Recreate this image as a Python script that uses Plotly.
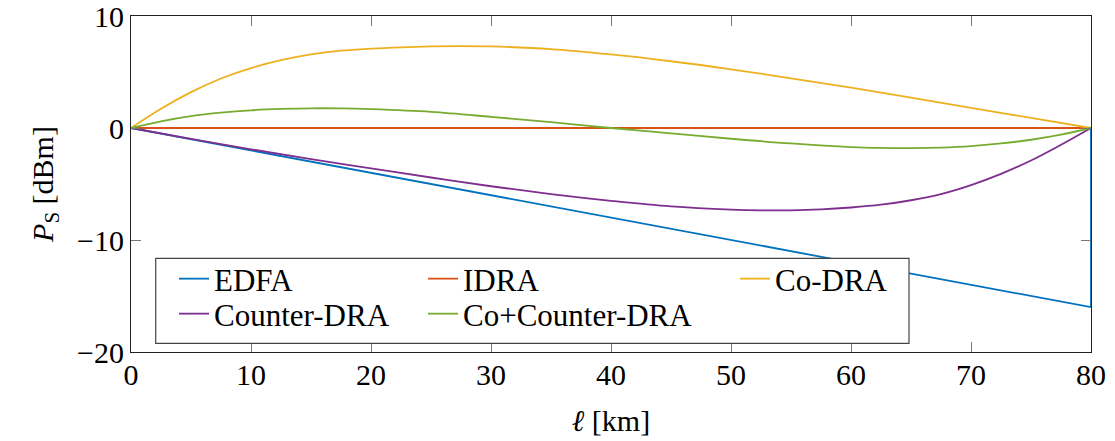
import plotly.graph_objects as go

# ---------------- data ----------------
EDFA_X = [0, 80, 80]
EDFA_Y = [0, -16.0, 0]

IDRA_X = [0, 80]
IDRA_Y = [0, 0]

CO_X = [0, 2.5, 5, 7.5, 10, 12.5, 15, 17.5, 20, 22.5, 25, 27.5, 30, 35, 40, 45, 50, 55, 60, 65, 70, 75, 80]
CO_Y = [0, 1.72, 3.2, 4.42, 5.35, 6.05, 6.57, 6.9, 7.08, 7.2, 7.28, 7.31, 7.28, 7.05, 6.57, 5.96, 5.24, 4.44, 3.6, 2.72, 1.8, 0.9, 0]

COUNTER_X = [0, 5, 10, 15, 20, 25, 30, 35, 40, 45, 50, 52.5, 55, 57.5, 60, 62.5, 65, 67.5, 70, 72.5, 75, 77.5, 80]
COUNTER_Y = [0, -0.97, -1.9, -2.78, -3.6, -4.42, -5.2, -5.9, -6.5, -7.0, -7.28, -7.35, -7.35, -7.27, -7.1, -6.85, -6.45, -5.9, -5.1, -4.1, -2.9, -1.5, 0]

COCTR_X = [0, 2.5, 5, 7.5, 10, 12.5, 15, 17.5, 20, 25, 30, 35, 40, 45, 50, 55, 60, 62.5, 65, 67.5, 70, 72.5, 75, 77.5, 80]
COCTR_Y = [0, 0.6, 1.06, 1.37, 1.58, 1.70, 1.76, 1.75, 1.68, 1.44, 1.0, 0.52, 0, -0.48, -0.96, -1.38, -1.7, -1.78, -1.8, -1.75, -1.62, -1.38, -1.05, -0.6, 0]

X_TICKS = [0, 10, 20, 30, 40, 50, 60, 70, 80]
Y_TICKS = [-20, -10, 0, 10]

COLORS = {
    "EDFA": "#0072BD",
    "IDRA": "#D95319",
    "Co-DRA": "#EDB120",
    "Counter-DRA": "#7E2F8E",
    "Co+Counter-DRA": "#77AC30",
}

FONT = "Liberation Serif, Times New Roman, DejaVu Serif, serif"
FS = 30
LFS = 31

fig = go.Figure()

series = [
    ("EDFA", EDFA_X, EDFA_Y, "legend", "linear"),
    ("IDRA", IDRA_X, IDRA_Y, "legend2", "linear"),
    ("Co-DRA", CO_X, CO_Y, "legend3", "spline"),
    ("Counter-DRA", COUNTER_X, COUNTER_Y, "legend4", "spline"),
    ("Co+Counter-DRA", COCTR_X, COCTR_Y, "legend5", "spline"),
]
for name, xs, ys, lg, shape in series:
    fig.add_trace(go.Scatter(
        x=xs, y=ys, mode="lines", name=name, legend=lg,
        line=dict(color=COLORS[name], width=1.8, shape=shape, smoothing=1.0),
    ))

# plot area in pixels: x 131..1091, y 16..352
W, H = 1115, 441
L, R, T, B = 131, 24, 16, 89
PW = W - L - R
PH = H - T - B

def px_x(p):
    return (p - L) / PW

def px_y(p):
    return (H - B - p) / PH

legend_common = dict(
    bgcolor="rgba(0,0,0,0)", borderwidth=0,
    font=dict(family=FONT, size=LFS, color="black"),
    xanchor="left", yanchor="middle", orientation="v",
)
row1, row2 = 279, 314
col1, col2, col3 = 174, 423, 735
legend_pos = {
    "legend": (col1, row1),
    "legend2": (col2, row1),
    "legend3": (col3, row1),
    "legend4": (col1, row2),
    "legend5": (col2, row2),
}
layout_legends = {}
for key, (px, py) in legend_pos.items():
    layout_legends[key] = dict(legend_common, x=px_x(px), y=px_y(py))

fig.update_layout(
    width=W, height=H,
    margin=dict(l=L, r=R, t=T, b=B, autoexpand=False),
    paper_bgcolor="white", plot_bgcolor="white",
    font=dict(family=FONT, size=FS, color="black"),
    showlegend=True,
    **layout_legends,
)

# legend box
fig.add_shape(
    type="rect", xref="paper", yref="paper",
    x0=px_x(155.7), x1=px_x(909), y0=px_y(343.3), y1=px_y(258.3),
    line=dict(color="#444444", width=1.2), fillcolor="white", layer="above",
)

fig.update_xaxes(
    range=[0, 80], tickvals=X_TICKS, ticktext=[str(v) for v in X_TICKS],
    showgrid=False, zeroline=False, automargin=False,
    showline=True, linecolor="#222222", linewidth=1.2, mirror="ticks",
    ticks="inside", ticklen=10, tickcolor="#777777", tickwidth=1,
    ticklabelstandoff=-4, ticklabeloverflow="allow",
    tickfont=dict(family=FONT, size=FS, color="black"),
    title=dict(text="<i>ℓ</i> [km]", font=dict(family=FONT, size=FS, color="black"), standoff=19),
)
fig.update_yaxes(
    range=[-20, 10], tickvals=Y_TICKS, ticktext=["−20", "−10", "0", "10"],
    showgrid=False, zeroline=False, automargin=False,
    showline=True, linecolor="#222222", linewidth=1.2, mirror="ticks",
    ticks="inside", ticklen=10, tickcolor="#777777", tickwidth=1,
    ticklabeloverflow="allow",
    tickfont=dict(family=FONT, size=FS, color="black"),
    title=dict(text="<i>P</i><sub>S</sub> [dBm]", font=dict(family=FONT, size=FS, color="black"), standoff=14),
)

fig.write_html("out.html")
